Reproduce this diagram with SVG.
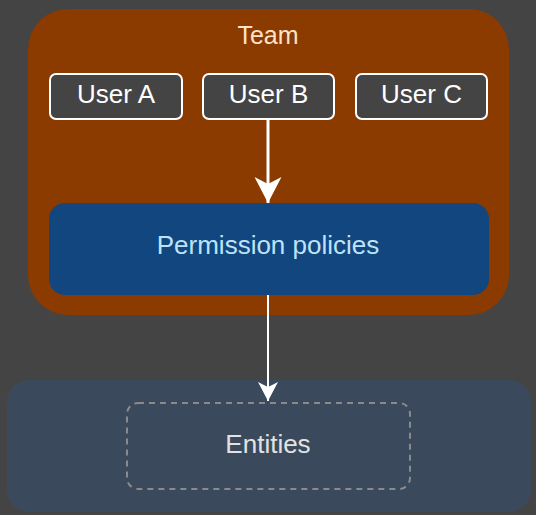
<svg xmlns="http://www.w3.org/2000/svg" width="536" height="515" viewBox="0 0 536 515">
<style>
text{font-family:"Liberation Sans",Arial,sans-serif;font-size:26px;text-anchor:middle}
.user rect{fill:#444444;stroke:#ffffff;stroke-width:2}
.user text{fill:#ffffff}
</style>
<defs>
<marker id="ah1" viewBox="0 0 26 27" refX="26" refY="13.5" markerWidth="26" markerHeight="27" markerUnits="userSpaceOnUse" orient="auto">
<path d="M0,0 L26,13.5 L0,27 L7,13.5 Z" fill="#ffffff"/>
</marker>
<marker id="ah2" viewBox="0 0 19 20" refX="19" refY="10" markerWidth="19" markerHeight="20" markerUnits="userSpaceOnUse" orient="auto">
<path d="M0,0 L19,10 L0,20 L5,10 Z" fill="#ffffff"/>
</marker>
</defs>
<rect x="0" y="0" width="536" height="515" fill="#444444"/>
<g id="team">
<rect x="28" y="9" width="481" height="306" rx="40" fill="#8b3a00"/>
<text x="268" y="44" fill="#fbe3c8" style="font-size:25px">Team</text>
</g>
<g id="entities-zone">
<rect x="7" y="380" width="524" height="132" rx="22" fill="#3a4a5c"/>
</g>
<g id="userA" class="user">
<rect x="50" y="74" width="132" height="45" rx="6"/>
<text x="116" y="103">User A</text>
</g>
<g id="userB" class="user">
<rect x="203" y="74" width="131" height="45" rx="6"/>
<text x="268.5" y="103">User B</text>
</g>
<g id="userC" class="user">
<rect x="356" y="74" width="131" height="45" rx="6"/>
<text x="421.5" y="103">User C</text>
</g>
<g id="policies">
<rect x="49" y="203" width="440" height="92" rx="16" fill="#11467f"/>
<text x="268" y="254" fill="#bee3f8">Permission policies</text>
</g>
<g id="entities">
<rect x="127" y="403" width="283" height="86" rx="11" fill="none" stroke="#8a8a8a" stroke-width="2" stroke-dasharray="6,5"/>
<text x="268" y="453" fill="#e2e2e2">Entities</text>
</g>
<g id="connectors">
<line x1="268" y1="120" x2="268" y2="203" stroke="#ffffff" stroke-width="3" marker-end="url(#ah1)"/>
<line x1="268" y1="295" x2="268" y2="401" stroke="#ffffff" stroke-width="2" marker-end="url(#ah2)"/>
</g>
</svg>
